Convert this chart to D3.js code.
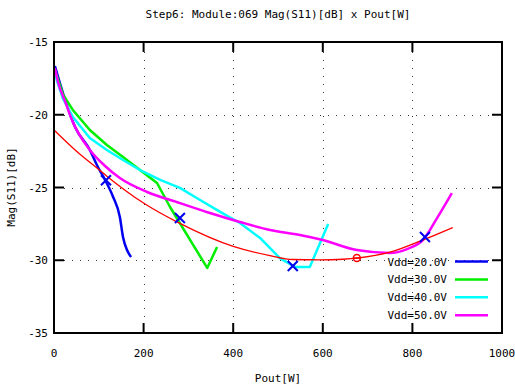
<html>
<head>
<style>
  body { margin: 0; background: #fff; }
  text { font-family: "DejaVu Sans Mono", monospace; font-size: 11px; fill: #000; }
</style>
</head>
<body>
<script src="https://d3js.org/d3.v7.min.js"></script>
<script>
// ticks
var xTicks = [0, 200, 400, 600, 800, 1000];
var yTicks = [-35, -30, -25, -20, -15];

// Vdd=20.0V
var pout20 = [2, 25, 47, 80, 98, 114, 132, 147, 154, 163, 172];
var s11_20 = [-16.65, -18.99, -20.84, -22.42, -23.59, -24.48, -25.65, -27.03, -28.40, -29.30, -29.78];
// Vdd=30.0V
var pout30 = [1, 6, 20, 42, 80, 118, 154, 192, 230, 259, 342, 364];
var s11_30 = [-16.9, -17.3, -18.6, -19.67, -21.05, -22.08, -22.90, -23.80, -24.69, -26.34, -30.53, -29.09];
// Vdd=40.0V
var pout40 = [1, 6, 20, 42, 80, 118, 154, 192, 237, 281, 326, 371, 415, 460, 504, 538, 571, 612];
var s11_40 = [-16.9, -17.6, -18.9, -20.15, -21.6, -22.42, -23.11, -23.80, -24.48, -25.03, -25.86, -26.68, -27.44, -28.47, -29.85, -30.46, -30.46, -27.51];
// Vdd=50.0V
var pout50 = [2, 9, 25, 42, 80, 114, 147, 208, 281, 348, 415, 482, 549, 600, 676, 750, 788, 824, 857, 888];
var s11_50 = [-16.8, -17.75, -19.1, -20.5, -22.42, -23.52, -24.35, -25.31, -26.07, -26.75, -27.37, -27.92, -28.26, -28.61, -29.30, -29.5, -29.23, -28.6, -27.0, -25.38];
// fitted curve (red)
var poutFit = [0, 58, 96, 118, 199, 281, 400, 482, 533, 594, 645, 676, 750, 824, 890];
var s11Fit = [-21.05, -22.72, -23.66, -24.22, -26.05, -27.47, -29.05, -29.68, -29.95, -29.98, -29.93, -29.85, -29.45, -28.6, -27.75];

// markers
var markPout = [116, 281, 533, 828];
var markS11 = [-24.5, -27.1, -30.4, -28.4];
var optPout = [676];
var optS11 = [-29.85];

var labels = ["Vdd=20.0V", "Vdd=30.0V", "Vdd=40.0V", "Vdd=50.0V"];
var colors = ["#0000f0", "#00ee00", "#00ffff", "#ff00ff"];

var width = 515, height = 387;
var svg = d3.select("body").append("svg")
    .attr("width", width)
    .attr("height", height);

var x = d3.scaleLinear().domain([0, 1000]).range([54, 502]);
var y = d3.scaleLinear().domain([-35, -15]).range([333, 42]);

// grid
var grid = svg.append("g").attr("stroke", "#333").attr("stroke-width", 1).attr("stroke-dasharray", "1,7");
grid.selectAll(".gx").data(xTicks.slice(1, -1)).enter().append("line")
    .attr("x1", d => Math.round(x(d)) + .5).attr("x2", d => Math.round(x(d)) + .5)
    .attr("y1", y(-15) + 10).attr("y2", y(-35) - 10);
grid.selectAll(".gy").data(yTicks.slice(1, -1)).enter().append("line")
    .attr("y1", d => Math.round(y(d)) + .5).attr("y2", d => Math.round(y(d)) + .5)
    .attr("x1", x(0) + 10).attr("x2", x(1000) - 10);

// ticks, all four sides, inward
var ticks = svg.append("g").attr("stroke", "#000").attr("stroke-width", 2);
xTicks.forEach(function (d) {
    ticks.append("line").attr("x1", x(d)).attr("x2", x(d)).attr("y1", y(-35)).attr("y2", y(-35) - 10);
    ticks.append("line").attr("x1", x(d)).attr("x2", x(d)).attr("y1", y(-15)).attr("y2", y(-15) + 10);
});
yTicks.forEach(function (d) {
    ticks.append("line").attr("y1", y(d)).attr("y2", y(d)).attr("x1", x(0)).attr("x2", x(0) + 10);
    ticks.append("line").attr("y1", y(d)).attr("y2", y(d)).attr("x1", x(1000)).attr("x2", x(1000) - 10);
});

// tick labels
svg.selectAll(".xl").data(xTicks).enter().append("text")
    .attr("x", d => x(d)).attr("y", 357).attr("text-anchor", "middle").text(d => d);
svg.selectAll(".yl").data(yTicks).enter().append("text")
    .attr("x", 48).attr("y", d => y(d) + 4).attr("text-anchor", "end").text(d => d);

// curves (smooth where the measured curve is smooth, straight where it has corners)
var smooth = d3.line().curve(d3.curveMonotoneX).x(d => x(d[0])).y(d => y(d[1]));
var sharp = d3.line().x(d => x(d[0])).y(d => y(d[1]));
var series = [[pout20, s11_20, smooth], [pout30, s11_30, sharp], [pout40, s11_40, sharp], [pout50, s11_50, smooth]];
series.forEach(function (s, i) {
    svg.append("path")
        .datum(d3.zip(s[0], s[1]))
        .attr("fill", "none")
        .attr("stroke", colors[i])
        .attr("stroke-width", 2.5)
        .attr("stroke-linejoin", "round")
        .attr("d", s[2]);
});
svg.append("path")
    .datum(d3.zip(poutFit, s11Fit))
    .attr("fill", "none")
    .attr("stroke", "#ff0000")
    .attr("stroke-width", 1.3)
    .attr("d", smooth);

// cross markers
var marks = svg.append("g").attr("stroke", "#0000f0").attr("stroke-width", 2);
d3.zip(markPout, markS11).forEach(function (m) {
    var cx = x(m[0]), cy = y(m[1]);
    marks.append("line").attr("x1", cx - 5).attr("y1", cy - 5).attr("x2", cx + 5).attr("y2", cy + 5);
    marks.append("line").attr("x1", cx - 5).attr("y1", cy + 5).attr("x2", cx + 5).attr("y2", cy - 5);
});
// optimum marker
d3.zip(optPout, optS11).forEach(function (m) {
    var cx = x(m[0]), cy = y(m[1]);
    svg.append("circle").attr("cx", cx).attr("cy", cy).attr("r", 3.5)
        .attr("fill", "none").attr("stroke", "#ff0000").attr("stroke-width", 1.5);
    svg.append("line").attr("x1", cx - 3.5).attr("x2", cx + 3.5).attr("y1", cy).attr("y2", cy)
        .attr("stroke", "#ff0000").attr("stroke-width", 1.5);
});

// frame
svg.append("rect")
    .attr("x", x(0)).attr("y", y(-15))
    .attr("width", x(1000) - x(0)).attr("height", y(-35) - y(-15))
    .attr("fill", "none").attr("stroke", "#000").attr("stroke-width", 2);

// legend
labels.forEach(function (l, i) {
    var ly = 261.5 + i * 17.9;
    svg.append("text").attr("x", 447).attr("y", ly + 4).attr("text-anchor", "end").text(l);
    svg.append("line").attr("x1", 455).attr("x2", 488).attr("y1", ly).attr("y2", ly)
        .attr("stroke", colors[i]).attr("stroke-width", 2.5);
});

// titles
svg.append("text").attr("x", 278).attr("y", 18).attr("text-anchor", "middle")
    .text("Step6: Module:069 Mag(S11)[dB] x Pout[W]");
svg.append("text").attr("x", 278).attr("y", 382).attr("text-anchor", "middle").text("Pout[W]");
svg.append("text").attr("transform", "translate(15,187) rotate(-90)").attr("text-anchor", "middle")
    .text("Mag(S11)[dB]");
</script>
</body>
</html>
